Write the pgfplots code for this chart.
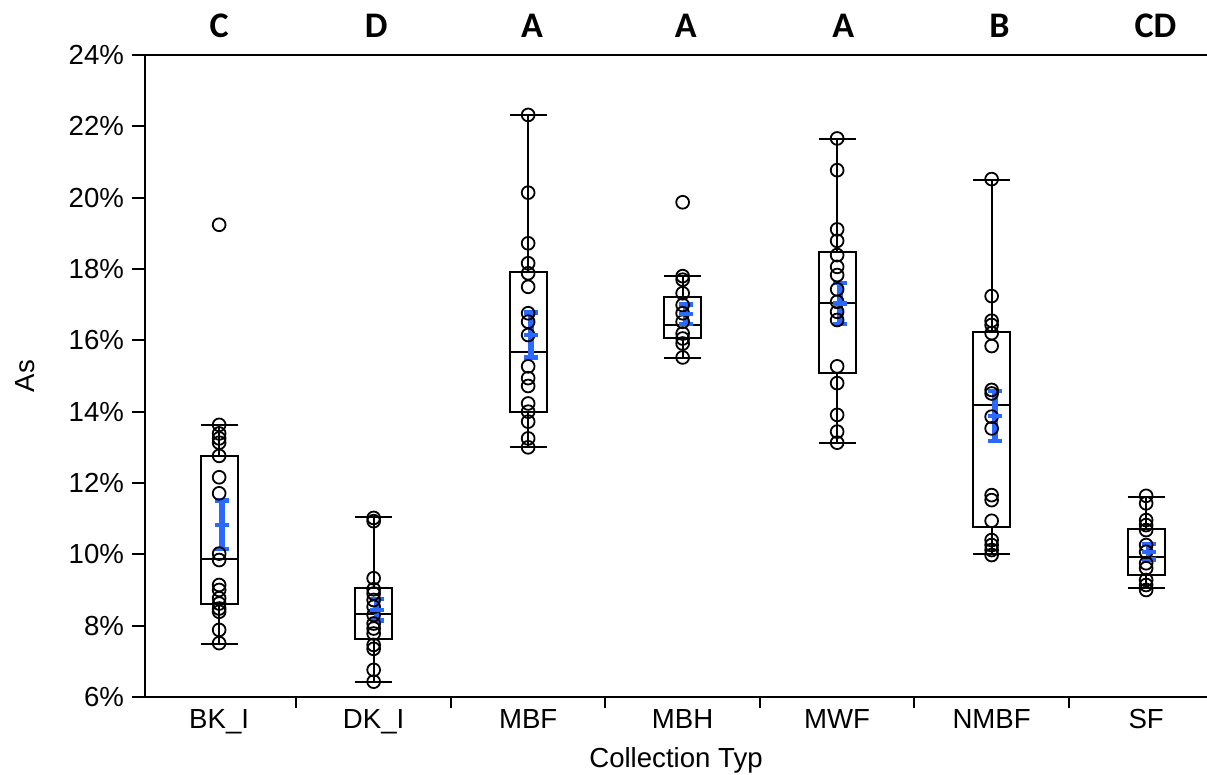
\documentclass[border=0pt]{standalone}
\usepackage{pgfplots}
\pgfplotsset{compat=1.18}
\usepgfplotslibrary{statistics}
\usepackage{fontspec}
\setmainfont{Liberation Sans}
\newfontfamily\carlito{Carlito}
\definecolor{mblue}{RGB}{41,105,255}

\pgfplotsset{
  pts/.style={only marks, mark=o, mark size=3.2pt, black, mark options={line width=0.9pt}},
  bx/.style={black, line width=1pt, solid,
    boxplot/every box/.style={draw=black, line width=1pt},
    boxplot/every whisker/.style={draw=black, line width=1pt},
    boxplot/every median/.style={draw=black, line width=1pt}},
  mn/.style={mblue, only marks, mark=-, mark size=3.5pt, mark options={line width=2.2pt, mblue},
    error bars/.cd, y dir=both, y explicit,
    error bar style={line width=2.8pt, mblue},
    error mark options={mblue, mark size=3.5pt, line width=2.2pt, rotate=90}},
}

\begin{document}
\begin{tikzpicture}
\useasboundingbox (0,0) rectangle (603.5pt,387.5pt);
\begin{axis}[
  at={(72.5pt,39pt)}, anchor=south west,
  scale only axis, width=539.2pt, height=321pt,
  xmin=-0.48, xmax=6.5, ymin=6, ymax=24,
  clip=false,
  boxplot/draw direction=y,
  axis line style={line width=1pt},
  xtick={0,1,2,3,4,5,6},
  xticklabels={BK\_I,DK\_I,MBF,MBH,MWF,NMBF,SF},
  minor xtick={0.5,1.5,2.5,3.5,4.5,5.5},
  major x tick style={draw=none},
  minor x tick style={line width=1pt, black},
  y tick style={line width=1pt, black},
  ytick={6,8,10,12,14,16,18,20,22,24},
  yticklabels={6\%,8\%,10\%,12\%,14\%,16\%,18\%,20\%,22\%,24\%},
  tick align=outside,
  xtick pos=bottom, ytick pos=left,
  major tick length=6.5pt, minor tick length=5.5pt,
  tick label style={font=\fontsize{13.8pt}{16pt}\selectfont},
  yticklabel style={xshift=-0.5pt},
  xticklabel style={yshift=4pt},
  label style={font=\fontsize{13.8pt}{16pt}\selectfont},
  xlabel={Collection Typ},
  ylabel={As},
  x label style={at={(axis description cs:0.4924,-0.0981)}, anchor=center},
  y label style={at={(axis description cs:-0.1113,0.5)}, anchor=center, rotate=0},
]
% boxes
\addplot[bx, boxplot prepared={draw position=0, lower whisker=7.49, lower quartile=8.60, median=9.87, upper quartile=12.77, upper whisker=13.63, box extend=0.24, whisker extend=0.24}] coordinates {};
\addplot[bx, boxplot prepared={draw position=1, lower whisker=6.41, lower quartile=7.63, median=8.33, upper quartile=9.05, upper whisker=11.06, box extend=0.24, whisker extend=0.24}] coordinates {};
\addplot[bx, boxplot prepared={draw position=2, lower whisker=13.02, lower quartile=14.00, median=15.66, upper quartile=17.91, upper whisker=22.32, box extend=0.24, whisker extend=0.24}] coordinates {};
\addplot[bx, boxplot prepared={draw position=3, lower whisker=15.50, lower quartile=16.06, median=16.43, upper quartile=17.22, upper whisker=17.80, box extend=0.24, whisker extend=0.24}] coordinates {};
\addplot[bx, boxplot prepared={draw position=4, lower whisker=13.11, lower quartile=15.07, median=17.04, upper quartile=18.48, upper whisker=21.64, box extend=0.24, whisker extend=0.24}] coordinates {};
\addplot[bx, boxplot prepared={draw position=5, lower whisker=10.00, lower quartile=10.78, median=14.19, upper quartile=16.24, upper whisker=20.49, box extend=0.24, whisker extend=0.24}] coordinates {};
\addplot[bx, boxplot prepared={draw position=6, lower whisker=9.05, lower quartile=9.42, median=9.93, upper quartile=10.71, upper whisker=11.62, box extend=0.24, whisker extend=0.24}] coordinates {};
% points
\addplot[pts] coordinates {(0,19.24) (0,13.63) (0,13.39) (0,13.25) (0,13.13) (0,12.76) (0,12.16) (0,11.71) (0,10.02) (0,9.84) (0,9.14) (0,9.00) (0,8.77) (0,8.62) (0,8.48) (0,8.39) (0,7.88) (0,7.51)};
\addplot[pts] coordinates {(1,11.02) (1,10.93) (1,9.33) (1,9.02) (1,8.90) (1,8.72) (1,8.53) (1,8.30) (1,8.06) (1,7.92) (1,7.78) (1,7.46) (1,7.35) (1,6.76) (1,6.43)};
\addplot[pts] coordinates {(2,22.32) (2,20.14) (2,18.72) (2,18.16) (2,17.88) (2,17.50) (2,16.76) (2,16.52) (2,16.15) (2,15.27) (2,14.94) (2,14.72) (2,14.23) (2,14.00) (2,13.72) (2,13.25) (2,13.00)};
\addplot[pts] coordinates {(3,19.87) (3,17.80) (3,17.70) (3,17.32) (3,16.99) (3,16.76) (3,16.52) (3,16.19) (3,16.05) (3,15.91) (3,15.52)};
\addplot[pts] coordinates {(4,21.66) (4,20.77) (4,19.11) (4,18.79) (4,18.39) (4,18.06) (4,17.83) (4,17.43) (4,17.08) (4,16.80) (4,16.57) (4,15.27) (4,14.80) (4,13.91) (4,13.44) (4,13.13)};
\addplot[pts] coordinates {(5,20.52) (5,17.24) (5,16.55) (5,16.43) (5,16.20) (5,15.84) (5,14.61) (5,14.51) (5,13.86) (5,13.53) (5,11.66) (5,11.52) (5,10.94) (5,10.40) (5,10.26) (5,10.12) (5,9.98)};
\addplot[pts] coordinates {(6,11.64) (6,11.43) (6,10.96) (6,10.82) (6,10.68) (6,10.26) (6,10.07) (6,9.75) (6,9.61) (6,9.28) (6,9.14) (6,9.00)};
% means
\addplot[mn] coordinates {(0.02,10.83) +- (0,0.675)};
\addplot[mn] coordinates {(1.02,8.44) +- (0,0.30)};
\addplot[mn] coordinates {(2.02,16.15) +- (0,0.63)};
\addplot[mn] coordinates {(3.02,16.73) +- (0,0.27)};
\addplot[mn] coordinates {(4.02,17.03) +- (0,0.57)};
\addplot[mn] coordinates {(5.02,13.88) +- (0,0.70)};
\addplot[mn] coordinates {(6.02,10.07) +- (0,0.22)};
% letters
\foreach \i/\t in {0/C,1.016/D,2.025/A,3.02/A,4.04/A,5.05/B,6.06/CD}{
  \edef\tmp{\noexpand\node[font=\noexpand\carlito\noexpand\bfseries\noexpand\fontsize{18pt}{20pt}\noexpand\selectfont, anchor=base] at (axis cs:\i,24) [yshift=8.5pt] {\t};}
  \tmp
}
\end{axis}
\end{tikzpicture}
\end{document}
